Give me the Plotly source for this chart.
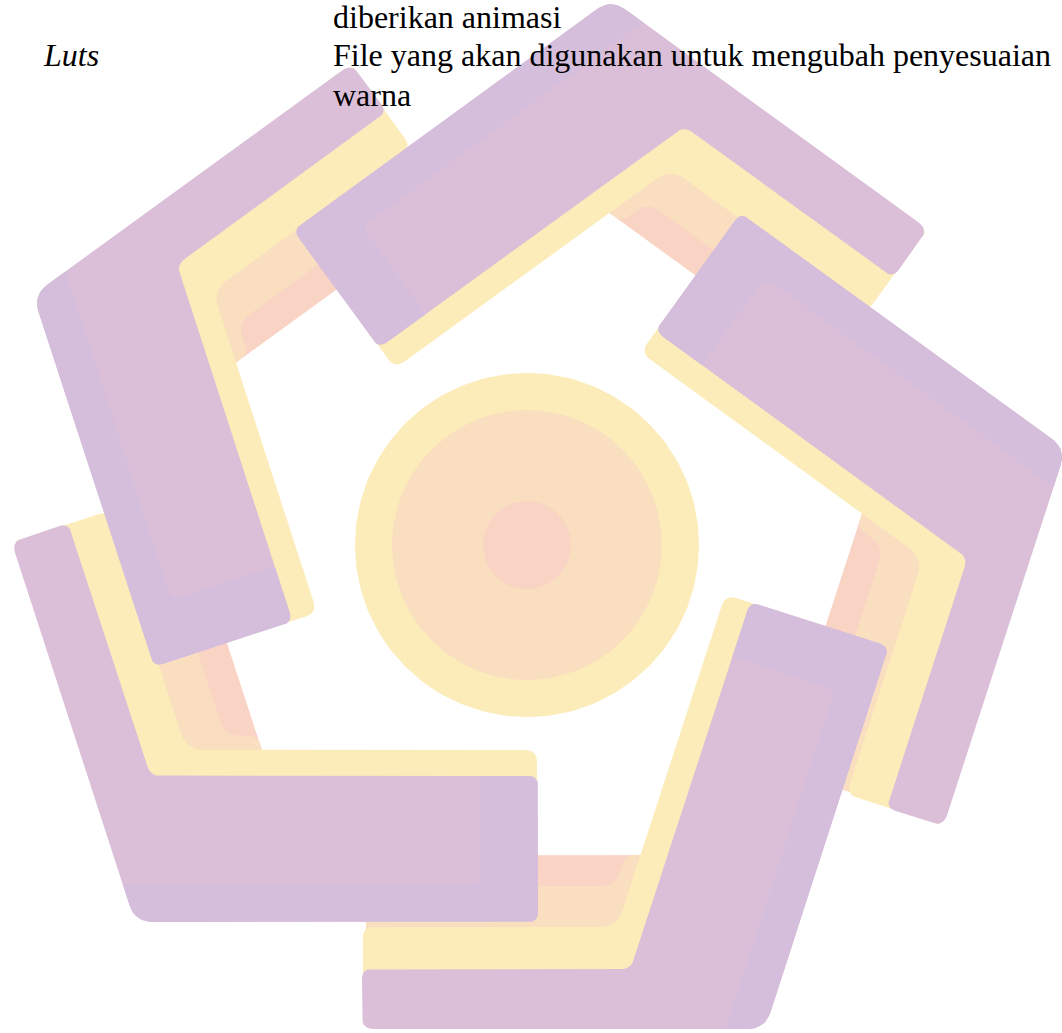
import numpy as np
import plotly.graph_objects as go

# ---------------- page text ----------------
BODY_LINES = ["diberikan animasi",
              "File yang akan digunakan untuk mengubah penyesuaian",
              "warna"]
BODY_X = [332, 332, 332]
BODY_BASELINE = [29, 67, 107]
TERM_TEXT = ["<i>Luts</i>"]
TERM_X = [42]
TERM_BASELINE = [67]

# ---------------- watermark logo (five bent arms + rings) ----------------
ARM_CORNER_X = [33, 611, 1066, 765, 135]
ARM_CORNER_Y = [295, -1, 449, 1029, 922]
ARM_INNER_DIR = [72, 144, 216, 288, 0]      # direction of the wide leg (deg, screen)
ARM_INNER_LEN = [391, 393, 402, 402, 403]
ARM_OUTER_LEN = [394, 392, 397, 403, 400]

RING_CX = [527, 527, 527]
RING_CY = [545, 545, 545]
RING_R = [172, 135, 44]

# ---------------- geometry / style constants ----------------
BEND = 108.0
W_IN, Y_IN, P_IN = 146, 26, 14
W_OUT, Y_OUT_EDGE, D_PEACH, D_SALMON = 60, 102, 143, 174
F_EDGE, F_CAP = 38, 58
INSET = 4

C_PURPLE = "#dbbfd8"
C_LILAC = "#d5bedb"
C_YELLOW = "#fcecb9"
C_PEACH = "#fadec0"
C_SALMON = "#f9d3c4"
RING_COLORS = [C_YELLOW, C_PEACH, C_SALMON]
FONT = "Liberation Serif, Times New Roman, serif"
FS = 32


def rounded(pts, radii, n=10):
    out = []
    m = len(pts)
    for i in range(m):
        P = pts[i]
        r = radii[i]
        if r <= 0:
            out.append(P)
            continue
        prv = pts[i - 1]
        nxt = pts[(i + 1) % m]
        d1 = prv - P
        d2 = nxt - P
        l1 = np.linalg.norm(d1)
        l2 = np.linalg.norm(d2)
        t = min(r, 0.45 * l1, 0.45 * l2)
        p1 = P + d1 / l1 * t
        p2 = P + d2 / l2 * t
        for s in np.linspace(0, 1, n):
            out.append((1 - s) ** 2 * p1 + 2 * (1 - s) * s * P + s ** 2 * p2)
    return np.array(out)


def arm_polys(k):
    O = np.array([ARM_CORNER_X[k], ARM_CORNER_Y[k]], float)
    ta = np.radians(ARM_INNER_DIR[k])
    tb = ta - np.radians(BEND)
    a = np.array([np.cos(ta), np.sin(ta)])
    b = np.array([np.cos(tb), np.sin(tb)])
    na = np.array([a[1], -a[0]])
    nb = np.array([-b[1], b[0]])
    Li, Lo = ARM_INNER_LEN[k], ARM_OUTER_LEN[k]

    def line(nv, d):
        return (nv, float(nv @ O + d))

    def X(l1, l2):
        M = np.array([l1[0], l2[0]])
        c = np.array([l1[1], l2[1]])
        return np.linalg.solve(M, c)

    IN = lambda d: line(na, d)
    OUT = lambda d: line(nb, d)
    IEND = lambda L: line(a, L)
    OEND = lambda L: line(b, L)

    s = INSET
    Wy = W_IN + Y_IN
    Wp = Wy + P_IN
    salmon = ([X(IN(s), OUT(s)), X(IN(s), OUT(D_SALMON)), X(OUT(D_SALMON), OEND(Lo - s)),
               X(OUT(s), OEND(Lo - s))],
              [0, 4, 10, 0])
    peach = ([X(IN(s), OUT(s)), X(IN(s), OUT(D_SALMON)), X(IN(Wp), OUT(D_SALMON)),
              X(IN(Wp), OUT(D_PEACH)), X(OUT(D_PEACH), OEND(Lo - s)), X(OUT(s), OEND(Lo - s))],
             [0, 0, 8, 16, 8, 0])
    yellow = ([X(IN(s), OUT(s)), X(IN(s), IEND(Li - 1)), X(IN(Wy), IEND(Li - 1)),
               X(IN(Wy), OUT(Y_OUT_EDGE)), X(OUT(Y_OUT_EDGE), OEND(Lo - 1)),
               X(OUT(s), OEND(Lo - 1))],
              [0, 0, 12, 18, 10, 0])
    purple = ([O, X(IN(0), IEND(Li)), X(IN(W_IN), IEND(Li)), X(IN(W_IN), OUT(W_OUT)),
               X(OUT(W_OUT), OEND(Lo)), X(OUT(0), OEND(Lo))],
              [18, 10, 10, 10, 10, 12])
    lilac = ([O, X(IN(0), IEND(Li)), X(IN(W_IN), IEND(Li)), X(IN(W_IN), IEND(Li - F_CAP)),
              X(IN(F_EDGE), IEND(Li - F_CAP)), X(IN(F_EDGE), OUT(0))],
             [18, 10, 10, 0, 10, 0])
    return {"salmon": salmon, "peach": peach, "yellow": yellow,
            "purple": purple, "lilac": lilac}


fig = go.Figure()


def add_poly(pts, color):
    fig.add_trace(go.Scatter(x=pts[:, 0], y=pts[:, 1], mode="lines", fill="toself",
                             fillcolor=color, line=dict(width=0, color=color),
                             hoverinfo="skip", showlegend=False))


arms = [arm_polys(k) for k in range(len(ARM_CORNER_X))]
layer_colors = [("salmon", C_SALMON), ("peach", C_PEACH), ("yellow", C_YELLOW),
                ("purple", C_PURPLE), ("lilac", C_LILAC)]
for name, col in layer_colors:
    for arm in arms:
        pts, radii = arm[name]
        add_poly(rounded([np.asarray(p, float) for p in pts], radii), col)

theta = np.linspace(0, 2 * np.pi, 240)
for cx, cy, r, col in zip(RING_CX, RING_CY, RING_R, RING_COLORS):
    add_poly(np.column_stack([cx + r * np.cos(theta), cy + r * np.sin(theta)]), col)

DESC = 0.216 * FS
annotations = []
for txt, x, base in zip(BODY_LINES + TERM_TEXT, BODY_X + TERM_X, BODY_BASELINE + TERM_BASELINE):
    annotations.append(dict(text=txt, x=x, y=base + DESC, xref="x", yref="y",
                            xanchor="left", yanchor="bottom", showarrow=False, borderpad=0,
                            font=dict(family=FONT, size=FS, color="#000000")))

fig.update_layout(
    width=1062, height=1033, autosize=False,
    margin=dict(l=0, r=0, t=0, b=0, pad=0),
    paper_bgcolor="white", plot_bgcolor="white",
    xaxis=dict(range=[0, 1062], visible=False, fixedrange=True),
    yaxis=dict(range=[1033, 0], visible=False, fixedrange=True),
    showlegend=False,
    annotations=annotations,
)

fig.write_html("out.html", config={"displayModeBar": False, "staticPlot": True},
               post_script="document.body.style.margin='0';document.body.style.overflow='hidden';")
